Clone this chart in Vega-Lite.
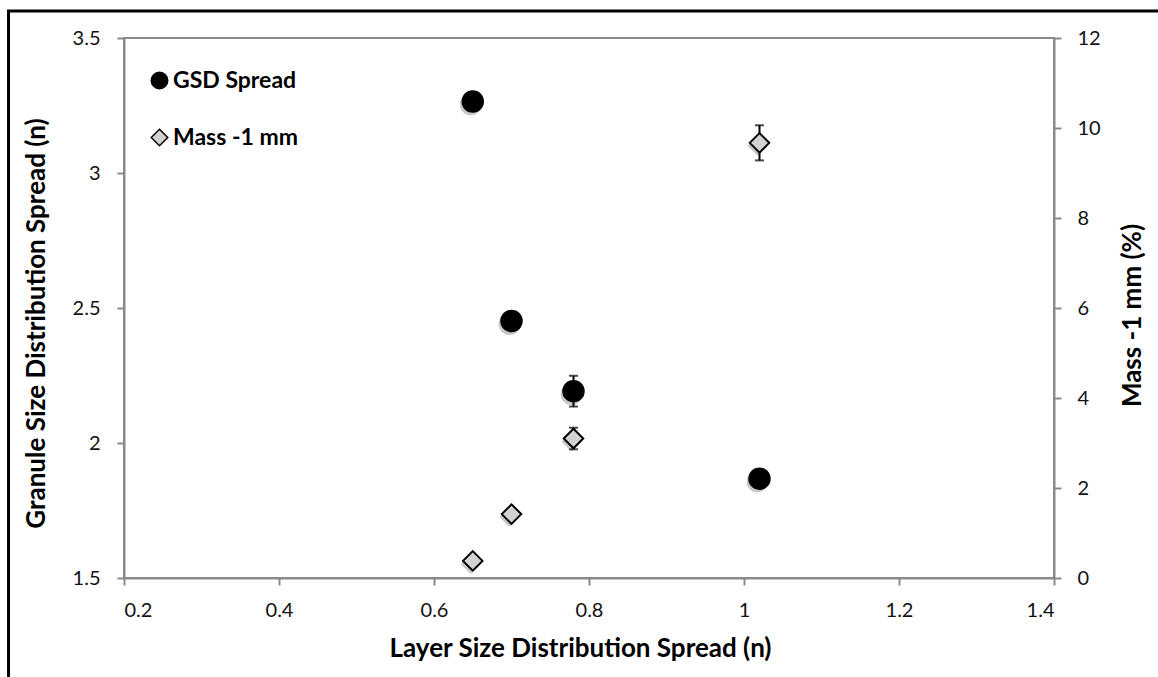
{
  "$schema": "https://vega.github.io/schema/vega-lite/v6.json",
  "width": 930,
  "height": 540,
  "autosize": {"type": "none"},
  "padding": {"left": 124, "top": 38, "right": 104, "bottom": 99},
  "background": "white",
  "config": {
    "font": "Lato",
    "view": {"stroke": "#8a8a8a", "strokeWidth": 2},
    "axis": {
      "grid": false,
      "domainColor": "#8a8a8a",
      "domainWidth": 2,
      "tickColor": "#8a8a8a",
      "tickWidth": 2,
      "tickSize": 7,
      "labelFont": "Lato",
      "labelFontSize": 20,
      "labelColor": "#111",
      "titleFont": "Lato",
      "titleFontSize": 26,
      "titleFontWeight": "bold",
      "titleColor": "#000"
    },
    "legend": {
      "orient": "none",
      "legendX": 24,
      "legendY": 31,
      "labelFont": "Lato",
      "labelFontSize": 23,
      "labelFontWeight": "bold",
      "labelColor": "#000",
      "symbolSize": 272,
      "symbolStrokeWidth": 1.5,
      "rowPadding": 33,
      "labelOffset": 2
    }
  },
  "datasets": {
    "gsd": [
      {"x": 0.65, "y": 3.265, "series": "GSD Spread"},
      {"x": 0.70, "y": 2.452, "series": "GSD Spread"},
      {"x": 0.78, "y": 2.192, "series": "GSD Spread"},
      {"x": 1.02, "y": 1.868, "series": "GSD Spread"}
    ],
    "gsd_err": [
      {"x": 0.78, "lo": 2.135, "hi": 2.249}
    ],
    "mass": [
      {"x": 0.65, "y": 0.38, "series": "Mass -1 mm"},
      {"x": 0.70, "y": 1.42, "series": "Mass -1 mm"},
      {"x": 0.78, "y": 3.10, "series": "Mass -1 mm"},
      {"x": 1.02, "y": 9.67, "series": "Mass -1 mm"}
    ],
    "mass_err": [
      {"x": 0.78, "lo": 2.86, "hi": 3.34},
      {"x": 1.02, "lo": 9.28, "hi": 10.06}
    ],
    "frame": [
      {"x1": 0.051, "x2": 1.7, "y1": 3.6, "y2": 1.0}
    ]
  },
  "layer": [
    {
      "layer": [
        {
          "data": {"name": "frame"},
          "mark": {"type": "rect", "filled": false, "stroke": "black", "strokeWidth": 3, "clip": false},
          "encoding": {
            "x": {"field": "x1", "type": "quantitative", "scale": {"domain": [0.2, 1.4], "nice": false, "zero": false}},
            "x2": {"field": "x2"},
            "y": {"field": "y1", "type": "quantitative", "scale": {"domain": [1.5, 3.5], "nice": false, "zero": false}},
            "y2": {"field": "y2"}
          }
        },
        {
          "data": {"name": "gsd_err"},
          "mark": {"type": "errorbar", "ticks": {"size": 9, "color": "black", "thickness": 2}, "rule": {"color": "black", "strokeWidth": 2}},
          "encoding": {
            "x": {"field": "x", "type": "quantitative", "scale": {"domain": [0.2, 1.4], "nice": false, "zero": false}},
            "y": {"field": "lo", "type": "quantitative", "scale": {"domain": [1.5, 3.5], "nice": false, "zero": false}, "title": "Granule Size Distribution Spread (n)"},
            "y2": {"field": "hi"}
          }
        },
        {
          "data": {"name": "gsd"},
          "mark": {"type": "point", "filled": true, "shape": "circle", "size": 470, "color": "black", "opacity": 0.22, "xOffset": -2, "yOffset": 3},
          "encoding": {
            "x": {"field": "x", "type": "quantitative"},
            "y": {"field": "y", "type": "quantitative"}
          }
        },
        {
          "data": {"name": "gsd"},
          "mark": {"type": "point", "filled": true, "size": 440, "strokeWidth": 1.5, "opacity": 1},
          "encoding": {
            "x": {
              "field": "x", "type": "quantitative",
              "scale": {"domain": [0.2, 1.4], "nice": false, "zero": false},
              "title": "Layer Size Distribution Spread (n)",
              "axis": {"values": [0.2, 0.4, 0.6, 0.8, 1, 1.2, 1.4], "format": "~g", "labelPadding": 15, "titleX": 456, "titleY": 70, "titleBaseline": "middle", "titleAlign": "center"}
            },
            "y": {
              "field": "y", "type": "quantitative",
              "scale": {"domain": [1.5, 3.5], "nice": false, "zero": false},
              "title": "Granule Size Distribution Spread (n)",
              "axis": {"values": [1.5, 2, 2.5, 3, 3.5], "format": "~g", "labelPadding": 17, "titleX": -88, "titleY": 285, "titleAngle": 270, "titleBaseline": "middle", "titleAlign": "center"}
            },
            "shape": {"field": "series", "type": "nominal", "scale": {"domain": ["GSD Spread", "Mass -1 mm"], "range": ["circle", "diamond"]}, "legend": {"title": null}},
            "fill": {"field": "series", "type": "nominal", "scale": {"domain": ["GSD Spread", "Mass -1 mm"], "range": ["#000000", "#d2d2d2"]}, "legend": {"title": null}},
            "stroke": {"field": "series", "type": "nominal", "scale": {"domain": ["GSD Spread", "Mass -1 mm"], "range": ["#000000", "#000000"]}, "legend": {"title": null}}
          }
        }
      ]
    },
    {
      "layer": [
        {
          "data": {"name": "mass_err"},
          "mark": {"type": "errorbar", "ticks": {"size": 9, "color": "black", "thickness": 2}, "rule": {"color": "black", "strokeWidth": 2}},
          "encoding": {
            "x": {"field": "x", "type": "quantitative"},
            "y": {"field": "lo", "type": "quantitative", "scale": {"domain": [0, 12], "nice": false, "zero": false}, "title": "Mass  -1 mm (%)", "axis": {"orient": "right", "values": [0, 2, 4, 6, 8, 10, 12], "labelPadding": 16, "titleX": 78, "titleY": 277, "titleAngle": 270, "titleBaseline": "middle", "titleAlign": "center"}},
            "y2": {"field": "hi"}
          }
        },
        {
          "data": {"name": "mass"},
          "mark": {"type": "point", "filled": true, "shape": "diamond", "size": 400, "color": "black", "opacity": 0.22, "xOffset": -2, "yOffset": 3},
          "encoding": {
            "x": {"field": "x", "type": "quantitative"},
            "y": {"field": "y", "type": "quantitative"}
          }
        },
        {
          "data": {"name": "mass"},
          "mark": {"type": "point", "filled": true, "size": 380, "strokeWidth": 2, "opacity": 1},
          "encoding": {
            "x": {"field": "x", "type": "quantitative"},
            "y": {
              "field": "y", "type": "quantitative",
              "scale": {"domain": [0, 12], "nice": false, "zero": false},
              "title": "Mass  -1 mm (%)",
              "axis": {"orient": "right", "values": [0, 2, 4, 6, 8, 10, 12], "labelPadding": 16, "titleX": 78, "titleY": 277, "titleAngle": 270, "titleBaseline": "middle", "titleAlign": "center"}
            },
            "shape": {"field": "series", "type": "nominal", "legend": {"title": null}},
            "fill": {"field": "series", "type": "nominal", "legend": {"title": null}},
            "stroke": {"field": "series", "type": "nominal", "legend": {"title": null}}
          }
        }
      ]
    }
  ],
  "resolve": {"scale": {"y": "independent"}}
}
